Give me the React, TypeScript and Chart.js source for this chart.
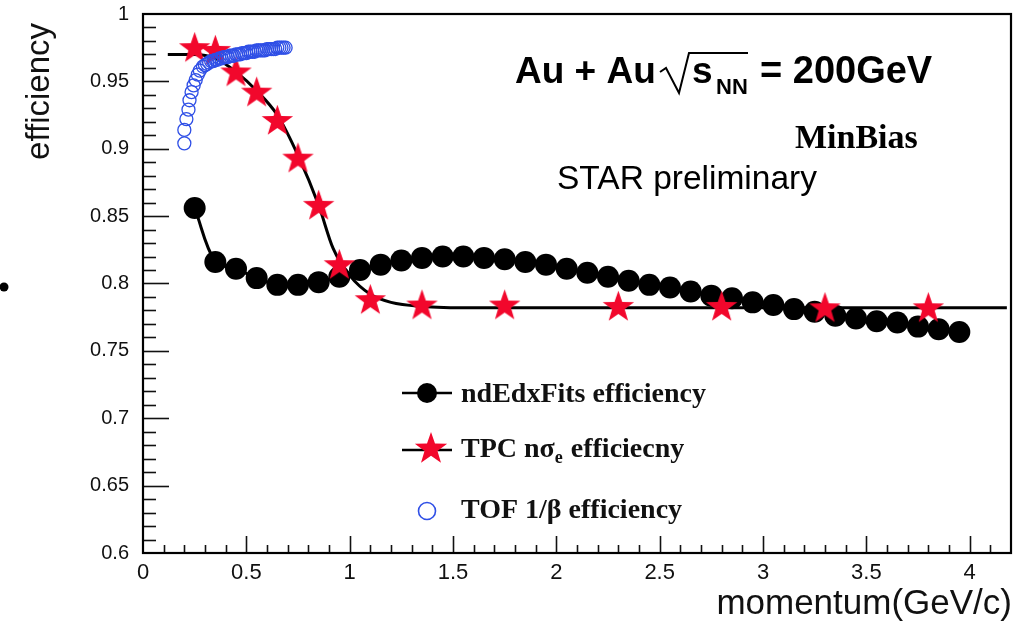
import React, { useEffect, useRef } from 'react';
import { Chart, registerables } from 'chart.js';

Chart.register(...registerables);

// ndEdxFits efficiency vs momentum
const dedxP = [0.25, 0.35, 0.45, 0.55, 0.65, 0.75, 0.85, 0.95, 1.05, 1.15, 1.25, 1.35, 1.45, 1.55, 1.65, 1.75, 1.85, 1.95, 2.05, 2.15, 2.25, 2.35, 2.45, 2.55, 2.65, 2.75, 2.85, 2.95, 3.05, 3.15, 3.25, 3.35, 3.45, 3.55, 3.65, 3.75, 3.85, 3.95];
const dedxEff = [0.856, 0.816, 0.811, 0.804, 0.799, 0.799, 0.801, 0.805, 0.81, 0.814, 0.817, 0.819, 0.82, 0.82, 0.819, 0.818, 0.816, 0.814, 0.811, 0.808, 0.805, 0.802, 0.799, 0.797, 0.794, 0.791, 0.789, 0.786, 0.784, 0.781, 0.779, 0.776, 0.774, 0.772, 0.771, 0.768, 0.766, 0.764];

// TPC n-sigma efficiency (stars) and its fitted curve
const tpcP = [0.25, 0.35, 0.45, 0.55, 0.65, 0.75, 0.85, 0.95, 1.1, 1.35, 1.75, 2.3, 2.8, 3.3, 3.8];
const tpcEff = [0.975, 0.973, 0.957, 0.942, 0.921, 0.893, 0.858, 0.814, 0.788, 0.784, 0.784, 0.783, 0.783, 0.782, 0.782];
const tpcFitP = [0.12, 0.25, 0.35, 0.45, 0.55, 0.65, 0.75, 0.85, 0.92, 1.0, 1.1, 1.2, 1.35, 1.6, 2.5, 4.18];
const tpcFitEff = [0.97, 0.97, 0.967, 0.957, 0.943, 0.925, 0.895, 0.858, 0.826, 0.806, 0.792, 0.786, 0.783, 0.782, 0.782, 0.782];

// TOF 1/beta efficiency
const tofP = [0.2, 0.2, 0.21, 0.22, 0.225, 0.235, 0.245, 0.255, 0.265, 0.275, 0.29, 0.3, 0.31, 0.32, 0.33, 0.34, 0.35, 0.36, 0.37, 0.38, 0.39, 0.4, 0.41, 0.42, 0.43, 0.44, 0.45, 0.46, 0.47, 0.48, 0.49, 0.5, 0.51, 0.52, 0.53, 0.54, 0.55, 0.56, 0.57, 0.58, 0.59, 0.6, 0.61, 0.62, 0.63, 0.64, 0.65, 0.66, 0.67, 0.68, 0.69];
const tofEff = [0.904, 0.914, 0.922, 0.929, 0.936, 0.942, 0.947, 0.951, 0.955, 0.958, 0.961, 0.962, 0.963, 0.964, 0.965, 0.965, 0.966, 0.966, 0.967, 0.967, 0.968, 0.968, 0.968, 0.969, 0.969, 0.969, 0.97, 0.97, 0.97, 0.971, 0.971, 0.971, 0.972, 0.972, 0.972, 0.972, 0.973, 0.973, 0.973, 0.973, 0.973, 0.974, 0.974, 0.974, 0.974, 0.974, 0.975, 0.975, 0.975, 0.975, 0.975];

// axis ranges and tick spacing
const xRange = [0, 4.2];
const yRange = [0.6, 1.0];
const xMajorStep = 0.5;
const xMinorStep = 0.1;
const yMajorStep = 0.05;
const yMinorStep = 0.01;

const legendItems = ['ndEdxFits efficiency', 'TPC nσe efficiecny', 'TOF 1/β efficiency'];

const RED = '#f2072c';
const BLUE = '#2f4fe6';
const SANS = '"Liberation Sans", Arial, sans-serif';
const SERIF = '"Liberation Serif", "Times New Roman", serif';

function starPath(ctx: CanvasRenderingContext2D, cx: number, cy: number, R: number) {
  const r = R * 0.4;
  ctx.beginPath();
  for (let i = 0; i < 10; i++) {
    const rad = i % 2 === 0 ? R : r;
    const a = -Math.PI / 2 + (i * Math.PI) / 5;
    const px = cx + rad * Math.cos(a);
    const py = cy + rad * Math.sin(a);
    if (i === 0) ctx.moveTo(px, py);
    else ctx.lineTo(px, py);
  }
  ctx.closePath();
}

function makeStarImage(R: number, color: string) {
  const c = document.createElement('canvas');
  const s = Math.ceil(2 * R + 4);
  c.width = s;
  c.height = s;
  const ctx = c.getContext('2d')!;
  ctx.fillStyle = color;
  starPath(ctx, s / 2, s / 2 + R * 0.05, R);
  ctx.fill();
  return c;
}

function fmt(v: number) {
  return String(Number(v.toFixed(3)));
}

const decorPlugin = {
  id: 'rootFrame',
  afterDraw(chart: any) {
    const { ctx, chartArea } = chart;
    const xs = chart.scales.x;
    const ys = chart.scales.y;
    const { left, right, top, bottom } = chartArea;
    ctx.save();

    // inward ticks on the left and bottom axes
    ctx.strokeStyle = '#111';
    ctx.lineWidth = 1.6;
    const nY = Math.round((yRange[1] - yRange[0]) / yMinorStep);
    for (let i = 1; i < nY; i++) {
      const v = yRange[0] + i * yMinorStep;
      const major = i % Math.round(yMajorStep / yMinorStep) === 0;
      const py = Math.round(ys.getPixelForValue(v)) + 0.5;
      ctx.beginPath();
      ctx.moveTo(left, py);
      ctx.lineTo(left + (major ? 26 : 13), py);
      ctx.stroke();
    }
    const nX = Math.round((xRange[1] - xRange[0]) / xMinorStep);
    for (let i = 1; i < nX; i++) {
      const v = xRange[0] + i * xMinorStep;
      const major = i % Math.round(xMajorStep / xMinorStep) === 0;
      const px = Math.round(xs.getPixelForValue(v)) + 0.5;
      ctx.beginPath();
      ctx.moveTo(px, bottom);
      ctx.lineTo(px, bottom - (major ? 17 : 8));
      ctx.stroke();
    }

    // frame
    ctx.lineWidth = 2.2;
    ctx.strokeStyle = '#000';
    ctx.strokeRect(left, top, right - left, bottom - top);

    // axis titles
    ctx.fillStyle = '#111';
    ctx.font = `33px ${SANS}`;
    ctx.save();
    ctx.translate(49, 23);
    ctx.rotate(-Math.PI / 2);
    ctx.textAlign = 'right';
    ctx.textBaseline = 'alphabetic';
    ctx.fillText('efficiency', 0, 0);
    ctx.restore();

    ctx.font = `35px ${SANS}`;
    ctx.textAlign = 'right';
    ctx.textBaseline = 'alphabetic';
    ctx.fillText('momentum(GeV/c)', 1012, 614);

    // collision system label
    ctx.textAlign = 'left';
    ctx.fillStyle = '#000';
    ctx.font = `bold 37px ${SANS}`;
    ctx.fillText('Au + Au', 515, 83);
    ctx.lineWidth = 2;
    ctx.beginPath();
    ctx.moveTo(660, 72);
    ctx.lineTo(666, 68);
    ctx.lineTo(679, 93);
    ctx.lineTo(689, 53);
    ctx.lineTo(748, 53);
    ctx.stroke();
    ctx.fillText('s', 692, 83);
    ctx.font = `bold 22px ${SANS}`;
    ctx.fillText('NN', 716, 94);
    ctx.font = `bold 38px ${SANS}`;
    ctx.fillText('= 200GeV', 760, 83);

    ctx.font = `bold 34px ${SERIF}`;
    ctx.fillText('MinBias', 795, 148);

    ctx.font = `33.5px ${SANS}`;
    ctx.fillText('STAR preliminary', 557, 189);

    // legend
    const rows = [393, 450, 511];
    const mx = 427;
    ctx.lineWidth = 2.5;
    ctx.strokeStyle = '#000';
    // row 1: line + filled circle
    ctx.beginPath();
    ctx.moveTo(402, rows[0]);
    ctx.lineTo(452, rows[0]);
    ctx.stroke();
    ctx.beginPath();
    ctx.arc(mx, rows[0], 10, 0, Math.PI * 2);
    ctx.fillStyle = '#000';
    ctx.fill();
    // row 2: line + star
    ctx.beginPath();
    ctx.moveTo(402, rows[1]);
    ctx.lineTo(452, rows[1]);
    ctx.stroke();
    ctx.fillStyle = RED;
    starPath(ctx, 431, rows[1] - 1, 17);
    ctx.fill();
    // row 3: hollow circle
    ctx.strokeStyle = BLUE;
    ctx.lineWidth = 1.6;
    ctx.beginPath();
    ctx.arc(mx, rows[2], 8.5, 0, Math.PI * 2);
    ctx.stroke();

    ctx.fillStyle = '#111';
    const tx = 461;
    ctx.font = `bold 28px ${SERIF}`;
    ctx.fillText(legendItems[0], tx, rows[0] + 9);
    // TPC n sigma_e with subscript
    const base2 = rows[1] + 7;
    let x = tx;
    const part1 = 'TPC nσ';
    ctx.fillText(part1, x, base2);
    x += ctx.measureText(part1).width;
    ctx.font = `bold 18px ${SERIF}`;
    ctx.fillText('e', x, base2 + 6);
    x += ctx.measureText('e').width + 1;
    ctx.font = `bold 28px ${SERIF}`;
    ctx.fillText(' efficiecny', x, base2);
    ctx.fillText(legendItems[2], tx, rows[2] + 7);

    // small dot at the left edge
    ctx.fillStyle = '#000';
    ctx.beginPath();
    ctx.arc(4, 287, 4.5, 0, Math.PI * 2);
    ctx.fill();

    ctx.restore();
  },
};

export default function App() {
  const canvasRef = useRef<HTMLCanvasElement | null>(null);

  useEffect(() => {
    const canvas = canvasRef.current;
    if (!canvas) return;
    const star = makeStarImage(16.5, RED);
    const toPts = (xs: number[], ys: number[]) => xs.map((x, i) => ({ x, y: ys[i] }));

    const chart = new Chart(canvas, {
      type: 'scatter',
      data: {
        datasets: [
          {
            label: legendItems[2],
            data: toPts(tofP, tofEff),
            pointStyle: 'circle',
            pointRadius: 6.5,
            pointBorderWidth: 1.3,
            pointBorderColor: BLUE,
            pointBackgroundColor: 'rgba(0,0,0,0)',
            showLine: false,
            order: 0,
          },
          {
            label: legendItems[1],
            data: toPts(tpcP, tpcEff),
            pointStyle: star as any,
            pointRadius: 17,
            showLine: false,
            order: 1,
          },
          {
            label: legendItems[0],
            data: toPts(dedxP, dedxEff),
            pointStyle: 'circle',
            pointRadius: 11,
            pointBackgroundColor: '#000',
            pointBorderColor: '#000',
            pointBorderWidth: 0,
            showLine: true,
            borderColor: '#000',
            borderWidth: 3,
            tension: 0.35,
            order: 2,
          },
          {
            label: 'TPC fit',
            data: toPts(tpcFitP, tpcFitEff),
            pointRadius: 0,
            showLine: true,
            borderColor: '#000',
            borderWidth: 3,
            cubicInterpolationMode: 'monotone',
            order: 3,
          },
        ],
      },
      options: {
        responsive: false,
        animation: false,
        events: [],
        layout: { autoPadding: false, padding: { left: 0, top: 14, right: 7, bottom: 0 } },
        plugins: { legend: { display: false }, tooltip: { enabled: false } },
        scales: {
          x: {
            type: 'linear',
            min: xRange[0],
            max: xRange[1],
            afterFit: (s: any) => {
              s.height = 72;
              s.paddingLeft = 0;
              s.paddingRight = 0;
            },
            grid: { display: false, drawTicks: false },
            border: { display: false },
            ticks: {
              stepSize: xMajorStep,
              includeBounds: false,
              padding: 7,
              color: '#111',
              font: { family: SANS, size: 22 },
              maxRotation: 0,
              autoSkip: false,
              callback: (v: any) => fmt(Number(v)),
            },
          },
          y: {
            type: 'linear',
            min: yRange[0],
            max: yRange[1],
            afterFit: (s: any) => {
              s.width = 143;
              s.paddingTop = 0;
              s.paddingBottom = 0;
            },
            grid: { display: false, drawTicks: false },
            border: { display: false },
            ticks: {
              stepSize: yMajorStep,
              includeBounds: false,
              padding: 14,
              color: '#111',
              font: { family: SANS, size: 20 },
              autoSkip: false,
              callback: (v: any) => fmt(Number(v)),
            },
          },
        },
      },
      plugins: [decorPlugin],
    });
    return () => chart.destroy();
  }, []);

  return (
    <div style={{ position: 'fixed', left: 0, top: 0, width: 1018, height: 625, background: '#fff' }}>
      <canvas ref={canvasRef} width={1018} height={625} style={{ display: 'block' }} />
    </div>
  );
}
